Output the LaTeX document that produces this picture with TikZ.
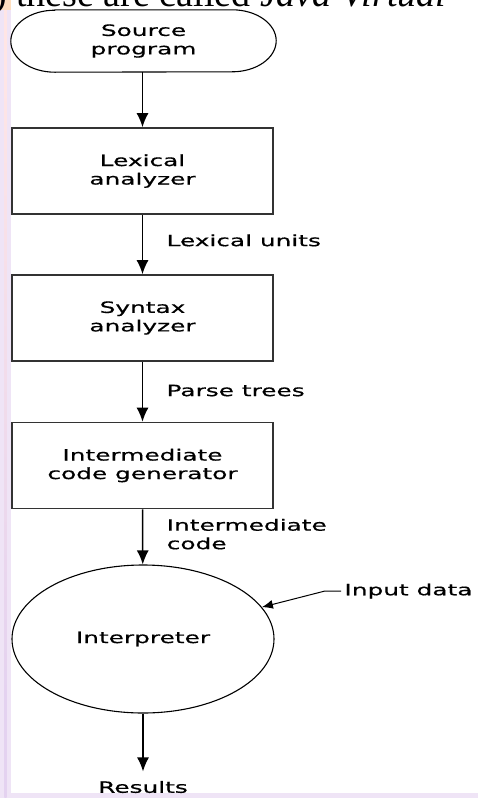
\documentclass[tikz,border=0pt]{standalone}
\usepackage{fontspec}
\newfontfamily\boxfont[FakeStretch=1.6,FakeBold=0.6]{DejaVu Sans}
\newfontfamily\slidefont{Liberation Serif}
\usetikzlibrary{arrows.meta,positioning,shapes.geometric}

\definecolor{slidelav}{HTML}{E4D2F0}
\pgfdeclareverticalshading{leftstrip}{11pt}{%
  color(0pt)=(slidelav!70);
  color(130pt)=(white!90!slidelav);
  color(180pt)=(slidelav);
  color(380pt)=(slidelav);
  color(420pt)=(pink!40);
  color(590pt)=(pink!45);
  color(640pt)=(white!95!pink);
  color(680pt)=(orange!25!yellow!30);
  color(798pt)=(orange!35)}

\begin{document}
\begin{tikzpicture}[x=1pt,y=-1pt,
  every node/.style={font=\boxfont\fontsize{15.5}{18.5}\selectfont},
  blk/.style={rectangle,draw=black!80,line width=1.6pt,minimum width=261pt,minimum height=86pt,align=center},
  flow/.style={-{Latex[length=14pt,width=12pt]},line width=1.5pt}]
\useasboundingbox (0,0) rectangle (478,798);

% slide background round the panel
\fill[slidelav!60] (0,0) rectangle (478,798);
\fill[white] (0,0) rectangle (478,10);
\shade[shading=leftstrip] (0,0) rectangle (11,798);
\fill[orange!25] (0,0) rectangle (11,10);
\begin{scope}
\clip (0,0) rectangle (478,10);
\node[anchor=base west, inner sep=0pt, font=\slidefont\fontsize{38}{40}\selectfont] (head) at (-6,6) {) these are called \textit{Java Virtual}};
\end{scope}
\fill[white] (11,10) rectangle (478,793);

\path
(143.5,41)  node[rectangle,minimum width=265pt,minimum height=62pt,align=center] (src) {Source\\program}
(142.5,171) node[blk] (lex) {Lexical\\analyzer}
(142.5,318) node[blk] (syn) {Syntax\\analyzer}
(142.5,465.5) node[blk] (icg) {Intermediate\\code generator}
(143,639)   node[ellipse,draw,line width=1.1pt,minimum width=262pt,minimum height=148pt,inner sep=0pt] (interp) {Interpreter}
(143,787)   node (res) {Results}
(341,591)   node[anchor=west] (in) {Input data};

% oval ends of the start node
\draw[line width=1.1pt] ([xshift=44pt]src.north west) -- ([xshift=-44pt]src.north east)
  arc[start angle=90, end angle=-90, x radius=44pt, y radius=31pt]
  -- ([xshift=44pt]src.south west)
  arc[start angle=270, end angle=90, x radius=44pt, y radius=31pt] -- cycle;

\draw[flow] (src.south -| lex) -- (lex);
\draw[flow] (lex) -- (syn) node[pos=.43, right=20pt] (lu) {Lexical units};
\draw[flow] (syn) -- (icg) node[pos=.48, right=20pt] (pt) {Parse trees};
\draw[flow] (icg) -- (interp) node[pos=.45, right=20pt, align=left] (ic) {Intermediate\\code};
\draw[flow, shorten >=6pt] (interp) -- (res);
\draw[-{Latex[length=11pt,width=9pt]}, line width=1pt] (in.west) -- ++(-16,0) -- (interp.15.5);
\end{tikzpicture}
\end{document}
